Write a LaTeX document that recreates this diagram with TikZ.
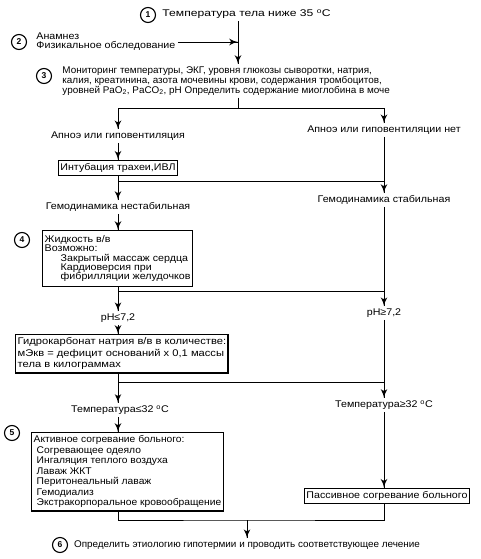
\documentclass[tikz,border=0pt]{standalone}
\usepackage{fontspec}
\setmainfont[FakeStretch = 1.1]{Liberation Sans}
\newfontfamily\widefont[FakeStretch = 1.25]{Liberation Sans}
\newfontfamily\midfont[FakeStretch = 1.15]{Liberation Sans}
\newfontfamily\slimfont[FakeStretch = 1.06]{Liberation Sans}
\newfontfamily\tightfont[FakeStretch = 1.02]{Liberation Sans}
\newfontfamily\plainfont{Liberation Sans}
\usepackage{tikz}
\usetikzlibrary{arrows}
\usetikzlibrary{decorations.markings}
\tikzset{->/.style = {decoration={markings,
                                  mark=at position 1 with {\arrow[scale=1.6]{latex'}}},
                      postaction={decorate}}}
\tikzset{num/.style = {draw, circle, line width = 1.1pt, inner sep = 0, minimum size = 15,
                       font = \plainfont\bfseries\fontsize{8.5}{8.5}\selectfont}}
\tikzset{box/.style = {draw, line width = 1.4pt, align = left, inner xsep = 2, inner ysep = 3}}
\tikzset{lbl/.style = {inner sep = 2}}

\begin{document}
\begin{tikzpicture}[x = 1pt, y = -1pt, line width = 0.9pt, font = \fontsize{9.7}{10}\selectfont]
      \useasboundingbox (0, 0) rectangle (480, 559);

      \coordinate (j1) at (238, 108);
      \coordinate (j2) at (118, 181);
      \coordinate (j3) at (118, 291);
      \coordinate (j4) at (118, 382);
      \coordinate (j5) at (247, 520);

      \node [num] (c1) at (148, 15) {1};
      \node [lbl, anchor = west, font = \widefont\fontsize{9.7}{10}\selectfont] (t1) at (160, 14)
        {Температура тела ниже 35 \textsuperscript{o}C};

      \node [num] (c2) at (19, 42) {2};
      \node [lbl, anchor = west, align = left, font = \fontsize{9.7}{9}\selectfont] (t2) at (34, 42)
        {Анамнез\\Физикальное обследование};

      \node [num] (c3) at (44, 76) {3};
      \node [lbl, anchor = north west, align = left, font = \tightfont\fontsize{9.7}{10}\selectfont] (t3) at (60, 64)
        {Мониторинг температуры, ЭКГ, уровня глюкозы сыворотки, натрия,\\
         калия, креатинина, азота мочевины крови, содержания тромбоцитов,\\
         уровней PaO\textsubscript{2}, PaCO\textsubscript{2}, pH Определить содержание миоглобина в моче};

      \draw [->] (t1.south -| j1) -- (t3.north -| j1);
      \draw [->] (t2.east) -- (t2.east -| j1);
      \draw (t3.south -| j1) -- (j1);

      \node [lbl] (a1) at (118, 136) {Апноэ или гиповентиляция};
      \node [lbl] (a2) at (384, 130) {Апноэ или гиповентиляции нет};
      \draw [->] (j1) -| (a1.north);
      \draw [->] (j1) -| (a2.north);

      \node [box] (b1) at (118, 168) {Интубация трахеи,ИВЛ};
      \draw [->] (a1) -- (b1);

      \node [lbl] (g1) at (118, 207) {Гемодинамика нестабильная};
      \node [lbl] (g2) at (384, 200) {Гемодинамика стабильная};
      \draw [->] (b1) -- (g1);
      \draw [->] (a2) -- (g2);
      \draw (j2) -- (j2 -| g2);

      \node [num] (c4) at (22, 240) {4};
      \node [box, anchor = north west, inner ysep = 4.5, font = \fontsize{9.7}{9.4}\selectfont] (b4) at (42, 230)
        {Жидкость в/в\\
         Возможно:\\
         \hspace*{16pt}Закрытый массаж сердца\\
         \hspace*{16pt}Кардиоверсия при\\
         \hspace*{16pt}фибрилляции желудочков};
      \draw [->] (g1) -- (g1 |- b4.north);

      \node [lbl] (p1) at (118, 318) {pH≤7,2};
      \node [lbl] (p2) at (384, 313) {pH≥7,2};
      \draw [->] (p1 |- b4.south) -- (p1);
      \draw [->] (g2) -- (p2);
      \draw (j3) -- (j3 -| p2);

      \node [box, anchor = north west, font = \midfont\fontsize{9.7}{11.5}\selectfont] (b5) at (15, 334)
        {Гидрокарбонат натрия в/в в количестве:\\
         мЭкв = дефицит оснований х 0,1 массы\\
         тела в килограммах};
      \draw [->] (p1) -- (p1 |- b5.north);

      \node [lbl] (s1) at (120, 410) {Температура≤32 \textsuperscript{o}C};
      \node [lbl] (s2) at (384, 405) {Температура≥32 \textsuperscript{o}C};
      \draw [->] (j4 |- b5.south) -- (j4 |- s1.north);
      \draw [->] (p2) -- (s2);
      \draw (j4) -- (j4 -| s2);

      \node [num] (c5) at (12, 433) {5};
      \node [box, anchor = north west, font = \slimfont\fontsize{9.7}{10.5}\selectfont] (b6) at (31, 432)
        {Активное согревание больного:\\
         \hspace*{3pt}Согревающее одеяло\\
         \hspace*{3pt}Ингаляция теплого воздуха\\
         \hspace*{3pt}Лаваж ЖКТ\\
         \hspace*{3pt}Перитонеальный лаваж\\
         \hspace*{3pt}Гемодиализ\\
         \hspace*{3pt}Экстракорпоральное кровообращение};
      \draw [->] (j4 |- s1.south) -- (j4 |- b6.north);

      \node [box] (b7) at (387, 496) {Пассивное согревание больного};
      \draw [->] (s2) -- (s2 |- b7.north);

      \draw (j4 |- b6.south) |- (j5) -| (s2 |- b7.south);

      \node [num] (c6) at (60, 545) {6};
      \node [lbl, font = \tightfont\fontsize{9.7}{10}\selectfont] (t6) at (247, 545)
        {Определить этиологию гипотермии и проводить соответствующее лечение};
      \draw [->] (j5) -- (t6.north);
    \end{tikzpicture}
\end{document}
